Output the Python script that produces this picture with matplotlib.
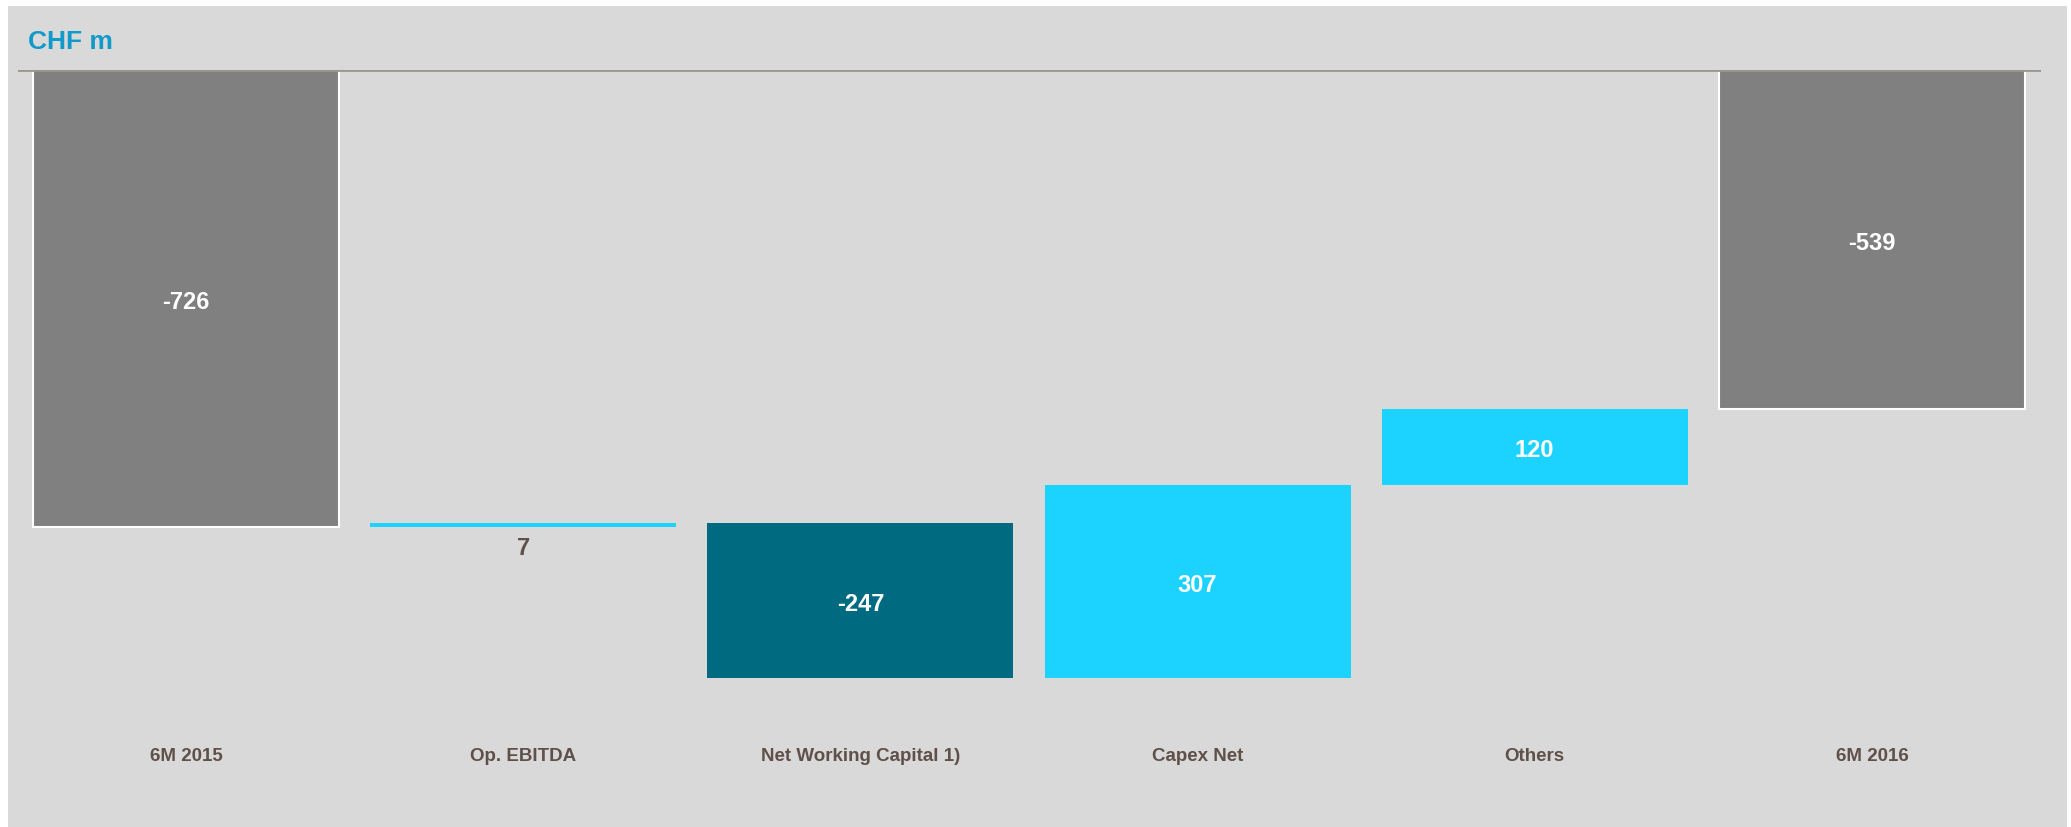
import numpy as np
import matplotlib.pyplot as plt
from matplotlib.patches import Rectangle

plt.rcParams['font.family'] = ['Liberation Sans', 'DejaVu Sans']

categories = ['6M 2015', 'Op. EBITDA', 'Net Working Capital 1)', 'Capex Net', 'Others', '6M 2016']
values = [-726, 7, -247, 307, 120, -539]
is_total = [True, False, False, False, False, True]

c_total = '#808080'
c_up = '#1cd3ff'
c_down = '#006a80'
c_text = '#5f5049'

# waterfall: totals hang from zero, changes float on the running total
bottoms = []
heights = []
running = 0
for v, tot in zip(values, is_total):
    if tot:
        bottoms.append(0)
        heights.append(v)
        running = v
    else:
        bottoms.append(running)
        heights.append(v)
        running += v

W, H = 2071, 828
fig = plt.figure(figsize=(W / 100, H / 100), dpi=100, facecolor='white')

# grey panel behind the chart
fig.patches.append(Rectangle((8 / W, 0), (2067 - 8) / W, 1 - 7 / H,
                             transform=fig.transFigure, facecolor='#d9d9d9',
                             edgecolor='none', zorder=-10))

ax = fig.add_axes([17.5 / W, 1 - 700.5 / H, (2040.5 - 17.5) / W, 629.5 / H])
ax.set_facecolor('none')
ax.set_xlim(-0.5, 5.5)
ax.set_ylim(-1000, 0)
for s in ax.spines.values():
    s.set_visible(False)
ax.set_xticks([])
ax.set_yticks([])

x = np.arange(len(categories))
for i, (b, h, tot) in enumerate(zip(bottoms, heights, is_total)):
    if tot:
        color, ec, lw = c_total, 'white', 1.5
    elif h >= 0:
        color, ec, lw = c_up, 'none', 0
    else:
        color, ec, lw = c_down, 'none', 0
    ax.bar(x[i], h, bottom=b, width=0.908, color=color, edgecolor=ec,
           linewidth=lw, zorder=2)

    label = f'{values[i]}'
    if abs(h) < 40:
        # too thin for inside text, put it under the bar
        ax.annotate(label, (x[i], min(b, b + h)), xytext=(0, -15),
                    textcoords='offset points', ha='center', va='center',
                    fontsize=17, fontweight='bold', color=c_text)
    else:
        ax.annotate(label, (x[i], b + h / 2), xytext=(0, -2),
                    textcoords='offset points', ha='center', va='center',
                    fontsize=17, fontweight='bold', color='white', zorder=3)

    ax.text(x[i], -0.0895, categories[i], transform=ax.get_xaxis_transform(),
            ha='center', va='center', fontsize=13.5, fontweight='bold',
            color=c_text)

ax.axhline(0, color='#9a9591', linewidth=2, zorder=4)

fig.text(28 / W, 1 - 42 / H, 'CHF m', ha='left', va='center', fontsize=19,
         fontweight='bold', color='#0f9ac9')

fig.savefig('out.png', dpi=100, facecolor='white')
